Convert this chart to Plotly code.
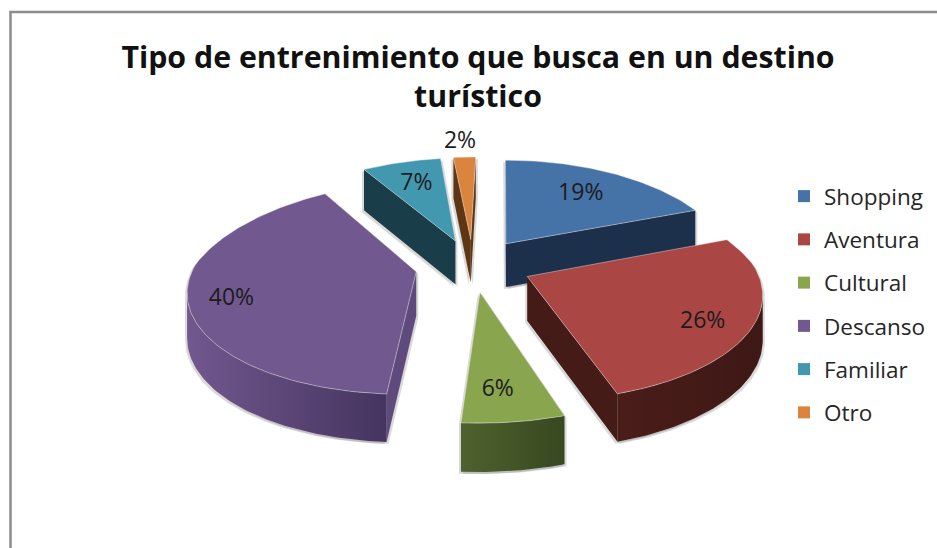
import math
import plotly.graph_objects as go

categories = ["Shopping", "Aventura", "Cultural", "Descanso", "Familiar", "Otro"]
values = [19, 26, 6, 40, 7, 2]

top_colors = ["#4572A7", "#AA4643", "#89A54E", "#71588F", "#4198AF", "#DB843D"]
rim_colors = [("#1C304C", "#1C304C"), ("#4A1D19", "#3E1815"), ("#4F612E", "#384820"),
              ("#71588F", "#45345F"), ("#193D49", "#193D49"), ("#5E3613", "#5E3613")]
start_wall = ["#1C304C", "#451B18", "#4F612E", "#5F4A7D", "#193D49", "#5E3613"]
end_wall = ["#1C304C", "#451B18", "#4F612E", "#5F4A7D", "#193D49", "#5E3613"]
label_radius = [0.68, 0.81, 0.78, 0.82, 0.69, 1.22]
label_turn = [0, 5, 2, -4, 0, -1]
paint_order = [5, 4, 0, 3, 2, 1]

WIDTH, HEIGHT = 937, 548
CX, CY = 473, 265          # pie centre on the page
SCALE_X, SCALE_Y = 228, 102
PERSPECTIVE = 0.15
PERSPECTIVE_FAR_X = 0.20
EXPLODE = 0.26
DEPTH = 44


def project(px, py):
    """Ground-plane point (right, away) to page pixels, with its perspective weight."""
    w = 1 / (1 + PERSPECTIVE * py)
    wx = 1 / (1 + PERSPECTIVE_FAR_X * py) if py > 0 else w
    side = 0.975 if px < 0 else 1.0
    lean = 4.5 * py if py > 0 else 3 * py
    return CX + SCALE_X * px * side * wx + lean, CY - SCALE_Y * py * w, w


def lower(pt):
    return pt[0], pt[1] + DEPTH * math.sqrt(pt[2]), pt[2]


def on_slice(mid, theta, r):
    ox, oy = EXPLODE * math.sin(mid), EXPLODE * math.cos(mid)
    return project(ox + r * math.sin(theta), oy + r * math.cos(theta))


def signed_area(pts):
    return sum(a[0] * b[1] - b[0] * a[1] for a, b in zip(pts, pts[1:] + pts[:1]))


fig = go.Figure()


def add_polygon(pts, color=None, gradient=None, edge=None):
    xs = [p[0] for p in pts] + [pts[0][0]]
    ys = [p[1] for p in pts] + [pts[0][1]]
    kw = dict(x=xs, y=ys, mode="lines", fill="toself", showlegend=False, hoverinfo="skip",
              line=dict(width=1 if edge else 0, color=edge or "rgba(0,0,0,0)"))
    if gradient:
        kw["fillgradient"] = dict(type="horizontal",
                                  colorscale=[[0, gradient[0]], [1, gradient[1]]])
    else:
        kw["fillcolor"] = color
    fig.add_trace(go.Scatter(**kw))


total = sum(values)
spans = []
running = 0
for v in values:
    spans.append((running / total * 2 * math.pi, (running + v) / total * 2 * math.pi))
    running += v

# soft shadow below the wedges, then the wedges from back to front
faces = {}
for i in paint_order:
    t0, t1 = spans[i]
    mid = (t0 + t1) / 2
    n = max(4, int(math.degrees(t1 - t0)))
    apex = on_slice(mid, mid, 0)
    rim = [on_slice(mid, t0 + (t1 - t0) * k / n, 1) for k in range(n + 1)]
    walls = []
    first = [apex, rim[0], lower(rim[0]), lower(apex)]
    if signed_area(first) < 0:
        walls.append((first, start_wall[i], None))
    last = [apex, rim[-1], lower(rim[-1]), lower(apex)]
    if signed_area(last) > 0:
        walls.append((last, end_wall[i], None))
    front = [k for k in range(n) if rim[k + 1][0] < rim[k][0]]
    if front:
        arc = rim[front[0]:front[-1] + 2]
        walls.append((arc + [lower(p) for p in reversed(arc)], None, rim_colors[i]))
    faces[i] = (walls, [apex] + rim)

for i in paint_order:
    walls, top = faces[i]
    for poly in [w[0] for w in walls] + [top]:
        for dx, dy in ((-2, 2), (2, 2)):
            add_polygon([(p[0] + dx, p[1] + dy) for p in poly], color="rgba(130,130,130,0.30)")

for i in paint_order:
    walls, top = faces[i]
    for poly, col, grad in walls:
        add_polygon(poly, color=col, gradient=grad)
    add_polygon(top, color=top_colors[i], edge="rgba(235,235,235,0.45)")

# percentage labels
lx, ly, ltext = [], [], []
for i, v in enumerate(values):
    t0, t1 = spans[i]
    mid = (t0 + t1) / 2
    p = on_slice(mid, mid + math.radians(label_turn[i]), label_radius[i])
    lx.append(p[0])
    ly.append(p[1])
    ltext.append(f"{v}%")
fig.add_trace(go.Scatter(x=lx, y=ly, text=ltext, mode="text", showlegend=False, hoverinfo="skip",
                         textfont=dict(family="Open Sans", size=23, color="#1c1c1c")))

# legend entries
for name, color in zip(categories, top_colors):
    fig.add_trace(go.Scatter(x=[None], y=[None], mode="markers", name=name, legendgroup=name,
                             marker=dict(symbol="square", size=12, color=color)))

fig.update_layout(
    width=WIDTH, height=HEIGHT,
    margin=dict(l=0, r=0, t=0, b=0),
    paper_bgcolor="white", plot_bgcolor="white",
    title=dict(text="Tipo de entrenimiento que busca en un destino<br>turístico",
               x=478 / WIDTH, xanchor="center", y=1 - 68 / HEIGHT, yanchor="top",
               font=dict(family="Open Sans", size=30.3, color="#111111", weight="bold")),
    xaxis=dict(range=[0, WIDTH], visible=False, fixedrange=True),
    yaxis=dict(range=[HEIGHT, 0], visible=False, fixedrange=True),
    legend=dict(x=784 / WIDTH, y=1 - 175 / HEIGHT, xanchor="left", yanchor="top",
                tracegroupgap=11, itemsizing="constant", bgcolor="rgba(0,0,0,0)",
                font=dict(family="Open Sans", size=22.5, color="#262626")),
    shapes=[dict(type="path", xref="x", yref="y", path=f"M 10.5 {HEIGHT} L 10.5 12 L {WIDTH} 12",
                 line=dict(color="#8C8C8C", width=2.5))],
)

fig.write_html("out.html", config={"displayModeBar": False})
